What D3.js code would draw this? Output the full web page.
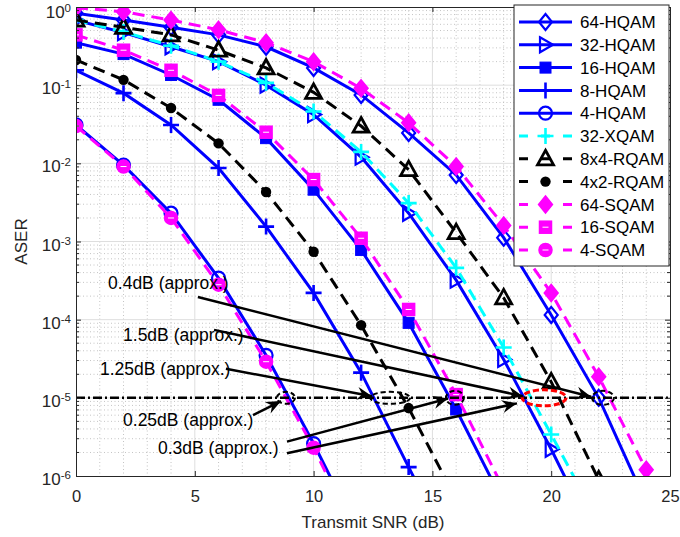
<!DOCTYPE html>
<html>
<head>
<meta charset="utf-8">
<script src="https://cdn.jsdelivr.net/npm/d3@7/dist/d3.min.js"></script>
<style>
body { margin: 0; background: #fff; }
svg { font-family: "Liberation Sans", Arial, sans-serif; }
</style>
</head>
<body>
<div id="chart"></div>
<script>
// ---- data (ASER, SNR in dB) ----
const snr64 = [0, 2, 4, 6, 8, 10, 12, 14, 16, 18, 20, 22, 24];
const hqam64 = [0.83, 0.68, 0.55, 0.44, 0.31, 0.166, 0.075, 0.0245, 0.0071, 0.00112, 1.15e-4, 1.0e-5, 4.5e-7];
const sqam64 = [0.98, 0.87, 0.68, 0.51, 0.35, 0.2, 0.091, 0.033, 0.0091, 0.0016, 2.2e-4, 1.86e-5, 1.2e-6];

const snr32 = [0, 2, 4, 6, 8, 10, 12, 14, 16, 18, 20, 22];
const hqam32 = [0.68, 0.47, 0.31, 0.2, 0.1, 0.042, 0.012, 0.0023, 3.2e-4, 3.1e-5, 2.2e-6, 1.3e-7];
const xqam32 = [0.68, 0.48, 0.32, 0.2, 0.107, 0.046, 0.014, 0.0031, 4.6e-4, 4.4e-5, 3.4e-6, 2.5e-7];
const rqam8x4 = [0.68, 0.55, 0.44, 0.28, 0.166, 0.081, 0.03, 0.0083, 0.0013, 1.9e-4, 1.6e-5, 8.9e-7];

const snr16 = [0, 2, 4, 6, 8, 10, 12, 14, 16, 18];
const hqam16 = [0.35, 0.25, 0.135, 0.065, 0.021, 0.0046, 7.8e-4, 9.1e-5, 7.1e-6, 4.5e-7];
const sqam16 = [0.44, 0.28, 0.155, 0.074, 0.025, 0.0062, 0.0011, 1.35e-4, 1.1e-5, 6.8e-7];

const snr8 = [0, 2, 4, 6, 8, 10, 12, 14, 16];
const hqam8 = [0.155, 0.079, 0.031, 0.0087, 0.00155, 2.2e-4, 2.1e-5, 1.3e-6, 8e-8];
const rqam4x2 = [0.21, 0.117, 0.051, 0.018, 0.0043, 7.4e-4, 8.5e-5, 7.4e-6, 5e-7];

const snr4 = [0, 2, 4, 6, 8, 10, 12];
const hqam4 = [0.031, 0.0095, 0.0023, 3.4e-4, 3.5e-5, 2.6e-6, 1.6e-7];
const sqam4 = [0.030, 0.0091, 0.0020, 2.8e-4, 2.9e-5, 2.3e-6, 1.3e-7];

const xTicks = [0, 5, 10, 15, 20, 25];
const yTicks = [1e-6, 1e-5, 1e-4, 1e-3, 1e-2, 1e-1, 1];
const targetAser = 1e-5;

// annotation text: [snr, aser, label]
const noteTexts = [
    [1.35, 2.95e-4, "0.4dB (approx.)"],
    [1.98, 6.3e-5, "1.5dB (approx.)"],
    [1.01, 2.35e-5, "1.25dB (approx.)"],
    [1.98, 5.2e-6, "0.25dB (approx.)"],
    [3.45, 2.3e-6, "0.3dB (approx.)"]
];
// arrows: [snr0, aser0, snr1, aser1]
const noteArrows = [
    [5.13, 1.95e-4, 21.68, 1.03e-5],
    [5.81, 7.4e-5, 18.81, 1.05e-5],
    [6.31, 2.35e-5, 12.46, 1.05e-5],
    [7.45, 6.0e-6, 8.63, 9.1e-6],
    [8.88, 2.75e-6, 15.66, 9.8e-6],
    [8.88, 1.95e-6, 18.56, 8.5e-6]
];
// ellipses round the 1e-5 crossings: [snr, rx, ry, colour]
const noteEllipses = [
    [8.84, 9, 6, "#000"],
    [13.22, 20, 6, "#000"],
    [15.95, 9, 7, "#000"],
    [22.18, 11, 7, "#000"],
    [19.7, 22, 8, "#ff0000"]
];

const series = [
    {name: "64-HQAM", x: snr64, y: hqam64, color: "#0000ff", dash: null, marker: "diamond"},
    {name: "32-HQAM", x: snr32, y: hqam32, color: "#0000ff", dash: null, marker: "triRight"},
    {name: "16-HQAM", x: snr16, y: hqam16, color: "#0000ff", dash: null, marker: "square"},
    {name: "8-HQAM", x: snr8, y: hqam8, color: "#0000ff", dash: null, marker: "plus"},
    {name: "4-HQAM", x: snr4, y: hqam4, color: "#0000ff", dash: null, marker: "circle"},
    {name: "32-XQAM", x: snr32, y: xqam32, color: "#00ffff", dash: "12,7", marker: "plus"},
    {name: "8x4-RQAM", x: snr32, y: rqam8x4, color: "#000000", dash: "12,7", marker: "triUp"},
    {name: "4x2-RQAM", x: snr8, y: rqam4x2, color: "#000000", dash: "12,7", marker: "dot"},
    {name: "64-SQAM", x: snr64, y: sqam64, color: "#ff00ff", dash: "12,7", marker: "diamondFill"},
    {name: "16-SQAM", x: snr16, y: sqam16, color: "#ff00ff", dash: "12,7", marker: "squareFill"},
    {name: "4-SQAM", x: snr4, y: sqam4, color: "#ff00ff", dash: "12,7", marker: "circleFill"}
];

const W = 680, H = 537;
const plot = {left: 76, right: 670, top: 7, bottom: 476};
const axisColor = "#262626";

let svg = d3.select("#chart").append("svg")
    .attr("width", W)
    .attr("height", H);

let x = d3.scaleLinear().domain([0, 25]).range([plot.left, plot.right]);
let y = d3.scaleLog().domain([1e-6, 1]).range([plot.bottom, plot.top]);

svg.append("defs").append("clipPath")
    .attr("id", "plot-clip")
    .append("rect")
        .attr("x", plot.left)
        .attr("y", plot.top)
        .attr("width", plot.right - plot.left)
        .attr("height", plot.bottom - plot.top);

let arrowDef = svg.select("defs").append("marker")
    .attr("id", "arrow-head")
    .attr("viewBox", "-16 -8 18 16")
    .attr("refX", 0)
    .attr("refY", 0)
    .attr("markerWidth", 18)
    .attr("markerHeight", 16)
    .attr("markerUnits", "userSpaceOnUse")
    .attr("orient", "auto");
arrowDef.append("path")
    .attr("d", "M0,0 L-15,-6.5 L-10,0 L-15,6.5 Z")
    .attr("fill", "#000");

// ---- grid ----
function minorY() {
    let out = [];
    for (let e = -6; e < 0; e++) {
        for (let k = 2; k <= 9; k++) out.push(k * Math.pow(10, e));
    }
    return out;
}
let minorX = d3.range(1, 25).filter(d => d % 5 != 0);

let grid = svg.append("g").attr("class", "grid");
grid.selectAll(".gx-minor").data(minorX).enter().append("line")
    .attr("x1", d => x(d)).attr("x2", d => x(d))
    .attr("y1", plot.top).attr("y2", plot.bottom)
    .attr("stroke", "#c4c4c4").attr("stroke-dasharray", "1,2.5");
grid.selectAll(".gy-minor").data(minorY()).enter().append("line")
    .attr("x1", plot.left).attr("x2", plot.right)
    .attr("y1", d => y(d)).attr("y2", d => y(d))
    .attr("stroke", "#c4c4c4").attr("stroke-dasharray", "1,2.5");
grid.selectAll(".gx-major").data(xTicks.slice(1, -1)).enter().append("line")
    .attr("x1", d => x(d)).attr("x2", d => x(d))
    .attr("y1", plot.top).attr("y2", plot.bottom)
    .attr("stroke", "#dedede");
grid.selectAll(".gy-major").data(yTicks.slice(1, -1)).enter().append("line")
    .attr("x1", plot.left).attr("x2", plot.right)
    .attr("y1", d => y(d)).attr("y2", d => y(d))
    .attr("stroke", "#dedede");

// ---- markers ----
function drawMarker(g, type, color) {
    switch (type) {
        case "diamond":
            g.append("path").attr("d", "M0,-8 L6.5,0 L0,8 L-6.5,0 Z")
                .attr("fill", "none").attr("stroke", color).attr("stroke-width", 2.2);
            break;
        case "diamondFill":
            g.append("path").attr("d", "M0,-8 L6.5,0 L0,8 L-6.5,0 Z")
                .attr("fill", color).attr("stroke", color).attr("stroke-width", 2.2);
            break;
        case "triRight":
            g.append("path").attr("d", "M-5.5,-7.5 L7.5,0 L-5.5,7.5 Z")
                .attr("fill", "none").attr("stroke", color).attr("stroke-width", 2.2);
            break;
        case "triUp":
            g.append("path").attr("d", "M0,-8.5 L8,6 L-8,6 Z")
                .attr("fill", "none").attr("stroke", color).attr("stroke-width", 2.8);
            break;
        case "square":
            g.append("rect").attr("x", -5.5).attr("y", -5.5).attr("width", 11).attr("height", 11)
                .attr("fill", color).attr("stroke", color).attr("stroke-width", 1);
            break;
        case "squareFill":
            g.append("rect").attr("x", -6).attr("y", -6).attr("width", 12).attr("height", 12)
                .attr("fill", color).attr("stroke", color).attr("stroke-width", 1.5);
            g.append("line").attr("x1", -3).attr("x2", 3).attr("y1", 0).attr("y2", 0)
                .attr("stroke", "#fff").attr("stroke-width", 1);
            break;
        case "plus":
            g.append("path").attr("d", "M-8,0 H8 M0,-8 V8")
                .attr("fill", "none").attr("stroke", color).attr("stroke-width", 2.6);
            break;
        case "circle":
            g.append("circle").attr("r", 6.5)
                .attr("fill", "none").attr("stroke", color).attr("stroke-width", 2.2);
            break;
        case "circleFill":
            g.append("circle").attr("r", 6.5)
                .attr("fill", color).attr("stroke", color).attr("stroke-width", 1.5);
            g.append("line").attr("x1", -3).attr("x2", 3).attr("y1", 0).attr("y2", 0)
                .attr("stroke", "#fff").attr("stroke-width", 1);
            break;
        case "dot":
            g.append("circle").attr("r", 5.2).attr("fill", color);
            break;
    }
}

// ---- curves ----
let curves = svg.append("g").attr("clip-path", "url(#plot-clip)");
let line = d3.line().x(d => x(d[0])).y(d => y(d[1]));

series.forEach(s => {
    let pts = s.x.map((v, i) => [v, s.y[i]]);
    let g = curves.append("g");
    g.append("path")
        .datum(pts)
        .attr("d", line)
        .attr("fill", "none")
        .attr("stroke", s.color)
        .attr("stroke-width", 3)
        .attr("stroke-dasharray", s.dash);
    pts.forEach(p => {
        let m = g.append("g").attr("transform", `translate(${ x(p[0]) }, ${ y(p[1]) })`);
        drawMarker(m, s.marker, s.color);
    });
});

// ---- annotations ----
let notes = svg.append("g");
notes.append("line")
    .attr("x1", plot.left).attr("x2", plot.right)
    .attr("y1", y(targetAser)).attr("y2", y(targetAser))
    .attr("stroke", "#000").attr("stroke-width", 2.5)
    .attr("stroke-dasharray", "9,3,2,3");

notes.selectAll("ellipse").data(noteEllipses).enter().append("ellipse")
    .attr("cx", d => x(d[0]))
    .attr("cy", y(targetAser))
    .attr("rx", d => d[1])
    .attr("ry", d => d[2])
    .attr("fill", "none")
    .attr("stroke", d => d[3])
    .attr("stroke-width", d => d[3] == "#000" ? 2 : 3)
    .attr("stroke-dasharray", d => d[3] == "#000" ? "5,3" : "6,3");

notes.selectAll(".arrow").data(noteArrows).enter().append("line")
    .attr("x1", d => x(d[0])).attr("y1", d => y(d[1]))
    .attr("x2", d => x(d[2])).attr("y2", d => y(d[3]))
    .attr("stroke", "#000").attr("stroke-width", 2.5)
    .attr("marker-end", "url(#arrow-head)");

notes.selectAll(".note").data(noteTexts).enter().append("text")
    .attr("x", d => x(d[0]))
    .attr("y", d => y(d[1]))
    .attr("dy", "0.35em")
    .attr("font-size", 17.5)
    .attr("fill", "#000")
    .text(d => d[2]);

// ---- axes ----
let xAxis = d3.axisBottom(x).tickValues(xTicks).tickSizeInner(-5).tickSizeOuter(0).tickPadding(14);
let gx = svg.append("g")
    .attr("transform", `translate(0, ${ plot.bottom })`)
    .call(xAxis);
gx.selectAll("text").attr("font-size", 16.5).attr("fill", axisColor).attr("font-family", null);

let yAxis = d3.axisLeft(y).tickValues(yTicks).tickSizeInner(-5).tickSizeOuter(0).tickPadding(5).tickFormat("");
let gy = svg.append("g")
    .attr("transform", `translate(${ plot.left }, 0)`)
    .call(yAxis);
gy.selectAll(".tick text").each(function(d) {
    let t = d3.select(this)
        .attr("font-size", 17)
        .attr("fill", axisColor)
        .attr("font-family", null)
        .attr("dy", d == 1 ? "0.6em" : "0.5em");
    t.append("tspan").text("10");
    t.append("tspan").attr("dy", -6).attr("font-size", 11.5).text(Math.round(Math.log10(d)));
});

svg.append("g")
    .attr("transform", `translate(0, ${ plot.top })`)
    .call(d3.axisTop(x).tickValues(xTicks).tickSizeInner(-5).tickSizeOuter(0).tickFormat(""));
svg.append("g")
    .attr("transform", `translate(${ plot.right }, 0)`)
    .call(d3.axisRight(y).tickValues(yTicks).tickSizeInner(-5).tickSizeOuter(0).tickFormat(""));

let minorTicks = svg.append("g");
minorY().forEach(v => {
    minorTicks.append("line")
        .attr("x1", plot.left).attr("x2", plot.left + 3)
        .attr("y1", y(v)).attr("y2", y(v))
        .attr("stroke", axisColor);
    minorTicks.append("line")
        .attr("x1", plot.right - 3).attr("x2", plot.right)
        .attr("y1", y(v)).attr("y2", y(v))
        .attr("stroke", axisColor);
});

svg.selectAll(".domain").attr("stroke", axisColor);
svg.selectAll(".tick line").attr("stroke", axisColor);

svg.append("text")
    .attr("x", (plot.left + plot.right) / 2)
    .attr("y", 528)
    .attr("text-anchor", "middle")
    .attr("font-size", 17)
    .attr("fill", axisColor)
    .text("Transmit SNR (dB)");

svg.append("text")
    .attr("transform", `translate(27, ${ (plot.top + plot.bottom) / 2 }) rotate(-90)`)
    .attr("text-anchor", "middle")
    .attr("font-size", 17)
    .attr("fill", axisColor)
    .text("ASER");

// ---- legend ----
let legend = svg.append("g");
let legendBox = {x: 514, y: 5, w: 155, h: 261};
legend.append("rect")
    .attr("x", legendBox.x).attr("y", legendBox.y)
    .attr("width", legendBox.w).attr("height", legendBox.h)
    .attr("fill", "#fff").attr("stroke", axisColor).attr("stroke-width", 1);

series.forEach((s, i) => {
    let rowY = 22 + i * 22.8;
    let row = legend.append("g").attr("transform", `translate(0, ${ rowY })`);
    row.append("line")
        .attr("x1", 519).attr("x2", 572)
        .attr("stroke", s.color).attr("stroke-width", 3)
        .attr("stroke-dasharray", s.dash ? "9,13" : null);
    let m = row.append("g").attr("transform", "translate(545.5, 0)");
    drawMarker(m, s.marker, s.color);
    row.append("text")
        .attr("x", 580)
        .attr("dy", "0.36em")
        .attr("font-size", 17)
        .attr("fill", "#000")
        .text(s.name);
});
</script>
</body>
</html>
